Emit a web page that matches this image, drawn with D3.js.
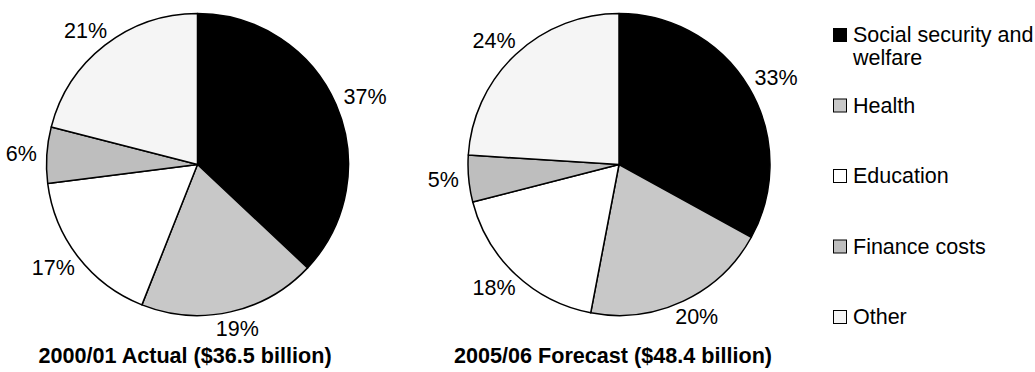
<!DOCTYPE html>
<html>
<head>
<meta charset="utf-8">
<script src="https://cdn.jsdelivr.net/npm/d3@7"></script>
<style>
  html, body { margin: 0; padding: 0; background: #fff; }
  svg { display: block; }
  text { font-family: "Liberation Sans", Arial, sans-serif; fill: #000; }
</style>
</head>
<body>
<svg id="chart" width="1035" height="372"></svg>
<script>
// Spending categories and their shares (%) of the budget
const categories = ["Social security and welfare", "Health", "Education", "Finance costs", "Other"];
const actual2000 = [37, 19, 17, 6, 21];
const forecast2005 = [33, 20, 18, 5, 24];
const pieTitles = ["2000/01 Actual ($36.5 billion)", "2005/06 Forecast ($48.4 billion)"];
const fills = ["#000000", "#c8c8c8", "#ffffff", "#bebebe", "#f5f5f5"];

const svg = d3.select("#chart");
const W = 1035, H = 372;
svg.append("rect").attr("width", W).attr("height", H).attr("fill", "#fff");

const radius = 151;
const color = d3.scaleOrdinal().domain(categories).range(fills);
const pie = d3.pie().sort(null).value(d => d.value);
const arc = d3.arc().innerRadius(0).outerRadius(radius);
const labelGap = 10;      // gap between rim and label box
const labelFont = 21.5;
const labelHalfH = 8;     // half of the visual height of a label

const pies = [
  { values: actual2000, title: pieTitles[0], cx: 197.5, cy: 164.5, titleX: 185 },
  { values: forecast2005, title: pieTitles[1], cx: 619, cy: 164.5, titleX: 613 }
];

pies.forEach(p => {
  const data = categories.map((c, i) => ({ category: c, value: p.values[i] }));
  const g = svg.append("g").attr("transform", `translate(${p.cx},${p.cy})`);
  const arcs = pie(data);

  g.selectAll("path.slice")
    .data(arcs)
    .join("path")
    .attr("class", "slice")
    .attr("d", arc)
    .attr("fill", d => color(d.data.category))
    .attr("stroke", "#000")
    .attr("stroke-width", 1.5)
    .attr("stroke-linejoin", "round");

  // Percentage labels sit just outside the rim, pushed out by half their box
  const labels = g.selectAll("text.pct")
    .data(arcs)
    .join("text")
    .attr("class", "pct")
    .attr("text-anchor", "middle")
    .attr("dominant-baseline", "central")
    .attr("font-size", labelFont)
    .text(d => d.data.value + "%");

  labels.each(function(d) {
    const a = (d.startAngle + d.endAngle) / 2;
    const s = Math.sin(a), c = -Math.cos(a);
    const halfW = this.getComputedTextLength() / 2;
    const r = radius + labelGap;
    d3.select(this)
      .attr("x", s * r + s * halfW)
      .attr("y", c * r + c * labelHalfH);
  });

  svg.append("text")
    .attr("x", p.titleX)
    .attr("y", 363)
    .attr("text-anchor", "middle")
    .attr("font-size", 21.6)
    .attr("font-weight", "bold")
    .text(p.title);
});

// Legend
const legend = svg.append("g").attr("transform", "translate(833,0)");
const legendY = d3.scalePoint().domain(categories).range([28, 310]);
const lineGap = 23;

categories.forEach(c => {
  const y = legendY(c);
  const item = legend.append("g").attr("transform", `translate(0,${y})`);
  item.append("rect")
    .attr("x", 0.5).attr("y", 0.5)
    .attr("width", 13).attr("height", 13)
    .attr("fill", color(c))
    .attr("stroke", "#000")
    .attr("stroke-width", 1);
  const words = c === "Social security and welfare" ? ["Social security and", "welfare"] : [c];
  const t = item.append("text")
    .attr("x", 20)
    .attr("y", 14)
    .attr("font-size", 21.5);
  words.forEach((w, i) => {
    t.append("tspan").attr("x", 20).attr("dy", i === 0 ? 0 : lineGap).text(w);
  });
});
</script>
</body>
</html>
